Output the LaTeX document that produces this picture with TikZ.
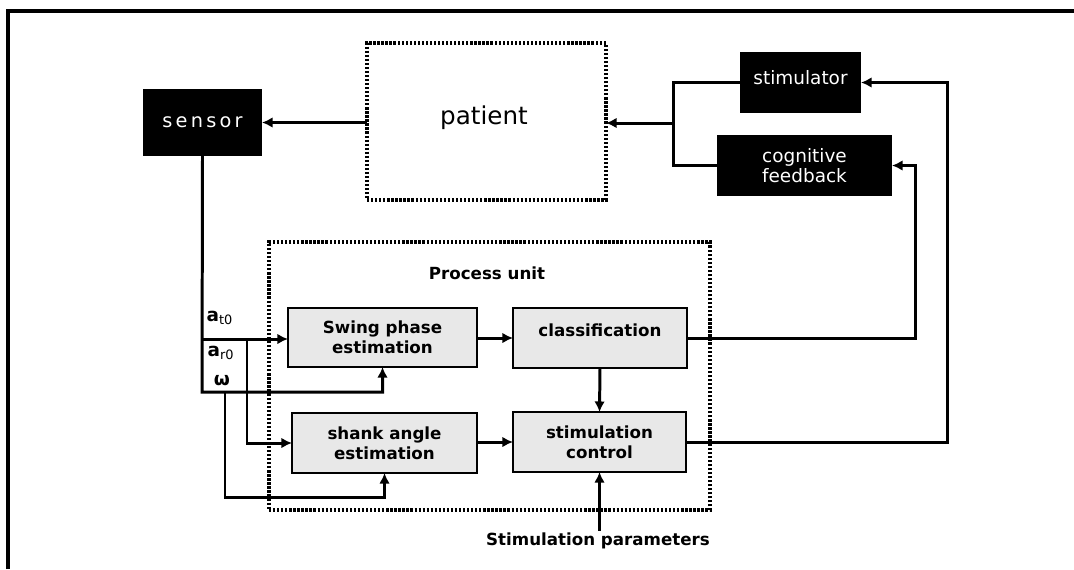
\documentclass[tikz,border=0pt]{standalone}
\usepackage{fontspec}
\setmainfont{DejaVu Sans}
\usepackage{tikz}
\usetikzlibrary{arrows.meta}

\tikzset{
  blackbox/.style={fill=black,text=white,inner sep=0pt,outer sep=0pt,align=center,
    font=\fontsize{10.5}{11.5}\selectfont},
  dotbox/.style={draw,line width=2.2pt,dash pattern=on 1.3pt off 1pt,inner sep=0pt,outer sep=0pt},
  procbox/.style={draw,line width=1.2pt,fill=black!9,inner sep=0pt,outer sep=0pt,align=center,
    font=\fontsize{9.5}{11.3}\selectfont\bfseries},
  lbl/.style={font=\fontsize{9.5}{11}\selectfont\bfseries,inner sep=1pt},
  wire/.style={line width=1.7pt},
  arr/.style={wire,-{Latex[length=6pt,width=6pt]}}
}

\begin{document}
\begin{tikzpicture}[x=0.02cm,y=-0.02cm]
      \useasboundingbox (0,0) rectangle (1074,569);
      % frame
      \draw[line width=1.8pt] (8,569) -- (8,11) -- (1074,11);

      % outer loop
      \node[blackbox,minimum width=2.38cm,minimum height=1.34cm,font=\fontsize{11}{13}\selectfont] (sensor) at (202.5,122.5) {s\,e\,n\,s\,o\,r};
      \node[dotbox,minimum width=4.78cm,minimum height=3.14cm] (patient) at (486.5,121.5) {};
      \node[font=\fontsize{14}{16}\selectfont] at (484,118) {patient};
      \node[blackbox,minimum width=2.42cm,minimum height=1.22cm,text depth=6pt] (stimulator) at (800.5,82.5) {stimulator};
      \node[blackbox,minimum width=3.5cm,minimum height=1.22cm] (cognitive) at (804.5,165.5) {cognitive\\feedback};

      % process unit
      \node[dotbox,minimum width=8.82cm,minimum height=5.36cm] (process) at (489.5,376) {};
      \node[lbl] (plabel) at (487,273) {Process unit};
      \node[procbox,minimum width=3.78cm,minimum height=1.18cm] (swing) at (382.5,337.5) {Swing phase\\estimation};
      \node[procbox,minimum width=3.48cm,minimum height=1.2cm] (classif) at (600,338) {classification\\[-2pt]\phantom{x}};
      \node[procbox,minimum width=3.7cm,minimum height=1.2cm] (shank) at (384.5,443) {shank angle\\estimation};
      \node[procbox,minimum width=3.46cm,minimum height=1.2cm] (stimctrl) at (599.5,442) {stimulation\\control};
      \node[lbl] (params) at (598,541) {Stimulation parameters};

      % sensor signals
      \coordinate (at0) at (202,339);
      \coordinate (low) at (202,392);
      \coordinate (ar0) at (247,339);
      \coordinate (om) at (225,392);
      \node[lbl,font=\fontsize{10.5}{12}\selectfont\bfseries] at (220,318) {a$_{\mathrm{t0}}$};
      \node[lbl,font=\fontsize{10.5}{12}\selectfont\bfseries] at (221,353) {a$_{\mathrm{r0}}$};
      \node[lbl,font=\fontsize{10.5}{12}\selectfont\bfseries] at (222,381) {ω};
      \draw[arr] (sensor.south) -- (low) -| (swing.south);
      \draw[arr] (at0) -- (at0 -| swing.west);
      \draw[arr] (ar0) |- (shank.west);
      \draw[arr] (om) -- ++(0,105) -| (shank.south);

      % inside the unit
      \draw[arr] (swing.east |- classif) -- (classif.west);
      \draw[arr] (shank.east |- stimctrl) -- (stimctrl.west);
      \draw[arr] (classif.south) -- (stimctrl.north);
      \draw[arr] (params.north -| stimctrl.south) -- (stimctrl.south);

      % feedback paths
      \coordinate (fbturn) at (915,338);
      \coordinate (stturn) at (947,442);
      \draw[arr] (classif.east) -- (fbturn) |- (cognitive.east);
      \draw[arr] (stimctrl.east) -- (stturn) |- (stimulator.east);
      \coordinate (join) at (673,123);
      \draw[wire] (stimulator.west) -| (join) |- (cognitive.west);
      \draw[arr] (join) -- (join -| patient.east);
      \draw[arr] (patient.west |- sensor.east) -- (sensor.east);
    \end{tikzpicture}
\end{document}
